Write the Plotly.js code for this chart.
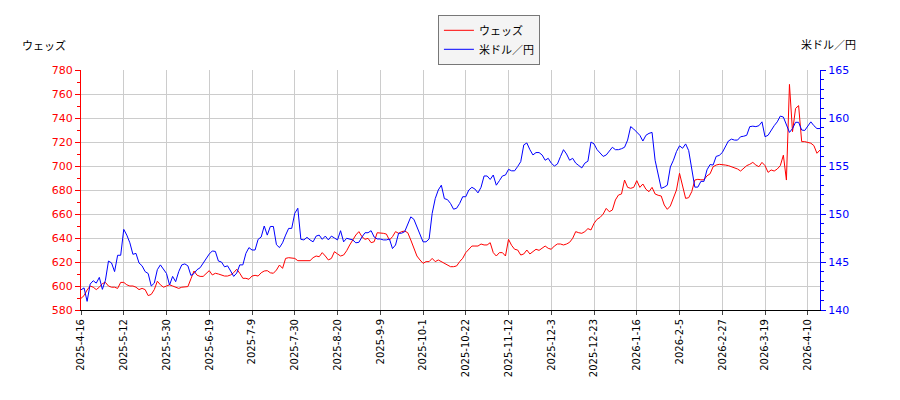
<!DOCTYPE html>
<html>
<head>
<meta charset="utf-8">
<script src="https://cdn.plot.ly/plotly-3.0.1.min.js"></script>
<style>
  body { margin: 0; background: #fff; }
  #chart { width: 900px; height: 400px; }
</style>
</head>
<body>
<div id="chart"></div>
<script>
// ウェッズ price (left axis), one value per trading day
var wedsPrice = [
  589.7, 592, 596.7, 600, 599, 597, 599, 602, 603, 600, 599, 599, 598, 603,
  603, 601, 600, 600, 599, 597, 598, 597, 592, 593, 597, 604, 601, 599,
  600, 601, 600, 599, 598, 599, 599, 599.5, 606, 612.5, 609, 608, 608, 610,
  612.8, 609.2, 610.6, 610, 608.9, 608.3, 608.3, 609.2, 611.1, 614, 610.6, 606.4, 606.4, 605.6,
  608.3, 608.9, 608.3, 611, 612.5, 612.8, 611, 610.6, 613.3, 617.5, 614.7, 623, 623.6, 623.6,
  623, 621.1, 621.1, 621.1, 621.1, 621.1, 623.6, 625, 624.4, 627.8, 625, 621.7, 623, 628.6,
  626.7, 625, 625.8, 629.4, 634.2, 638.3, 642.5, 645.3, 641.1, 638.9, 639.7, 636.1, 636.9, 644.4,
  644.4, 643.9, 643.3, 638.3, 641.1, 645.3, 643.9, 645.3, 645.8, 644.4, 638.3, 631.4, 625, 621.7,
  618.9, 620.3, 620.3, 623, 620.3, 621.7, 620.3, 618.9, 617, 616.1, 616.1, 616.7, 620.3, 623.1,
  627.8, 630.6, 633.3, 633.3, 633.3, 635, 634.2, 634.2, 636.1, 627.8, 625, 627.8, 627.8, 625,
  638.9, 633.9, 630.6, 630, 625.8, 626.7, 630, 626.7, 628.6, 630.6, 629.7, 631.9, 633.3, 631.4,
  630.6, 633.3, 635, 635, 634.2, 635, 636.4, 639.7, 645.3, 644.4, 643.9, 645.3, 647.8, 646.7,
  652.2, 655.6, 657.2, 660, 664.7, 661.9, 663.3, 671.7, 675.8, 676.7, 688.3, 682.2, 681.4, 682.2,
  687.8, 682.2, 685, 680.6, 678.6, 682.2, 676.7, 675.6, 675, 667.5, 663.9, 666.7, 673, 680,
  693.9, 683, 673, 673.6, 678.6, 688.3, 688.9, 688.5, 688.5, 691.8, 693.5, 699.4, 700.8, 701.4,
  701.4, 700.8, 700.3, 699.4, 698.6, 697.5, 695.8, 698, 700.3, 701.4, 703, 700.8, 699.4, 703,
  700.3, 694.7, 696.7, 695.8, 697.5, 700.3, 709, 688.3, 768, 728.6, 748, 750.3, 720.3, 720.3,
  719.7, 719, 717, 710.6, 713.3
];

// 米ドル／円 rate (right axis)
var usdJpy = [
  142.1, 142.3, 140.9, 142.7, 143.05, 142.8, 143.4, 142.15, 143.1, 145.1, 144.9, 144.0, 145.7, 145.7,
  148.4, 147.8, 147.0, 145.8, 145.9, 144.9, 144.6, 144.0, 143.8, 142.5, 142.8, 144.2, 144.7, 144.2,
  143.8, 142.6, 143.5, 142.95, 144.0, 144.7, 144.8, 144.6, 143.6, 143.8, 144.2, 144.4, 144.9, 145.3,
  145.83, 146.15, 146.1, 145.1, 145.0, 144.5, 144.6, 144.06, 143.5, 143.85, 144.7, 144.7, 145.9, 146.5,
  146.25, 146.25, 147.36, 147.6, 148.75, 147.8, 148.7, 148.7, 146.8, 146.5, 147.0, 147.8, 148.5, 148.5,
  150.07, 150.6, 147.36, 147.3, 147.57, 147.3, 147.1, 147.7, 147.8, 147.36, 147.7, 147.3, 147.7, 147.5,
  147.3, 148.26, 147.1, 147.47, 147.4, 147.3, 147.0, 147.05, 147.6, 148.05, 148.05, 148.26, 147.6, 147.4,
  147.4, 147.3, 147.3, 147.4, 146.4, 146.77, 147.99, 148.0, 148.16, 148.96, 149.7, 149.45, 148.7, 147.8,
  147.1, 147.1, 147.4, 150.07, 151.6, 152.5, 153.0, 151.6, 151.5, 151.1, 150.5, 150.6, 151.1, 151.8,
  151.8, 152.5, 152.78, 152.6, 152.2, 152.78, 153.96, 153.96, 153.6, 154.06, 153.0, 153.47, 153.96, 154.06,
  154.65, 154.5, 154.5, 154.95, 155.45, 157.2, 157.4, 156.7, 156.15, 156.4, 156.4, 156.15, 155.6, 155.8,
  155.3, 155.0, 155.2, 155.97, 156.7, 156.25, 155.6, 155.8, 155.3, 155.05, 154.8, 155.3, 155.5, 157.5,
  157.3, 156.7, 156.3, 156.0, 156.15, 156.5, 156.95, 156.7, 156.7, 156.8, 156.95, 157.7, 159.1, 158.85,
  158.5, 158.2, 157.6, 158.2, 158.4, 158.5, 155.6, 154.06, 152.67, 152.8, 153.0, 154.9, 155.6, 156.5,
  157.1, 156.85, 157.3, 156.6, 154.76, 152.8, 152.8, 153.4, 153.4, 154.6, 155.15, 155.1, 156.0, 156.1,
  156.4, 157.0, 157.6, 157.8, 157.7, 157.7, 158.05, 158.1, 158.2, 159.1, 159.15, 159.1, 159.2, 159.6,
  158.05, 158.2, 158.75, 159.2, 159.6, 160.2, 160.1, 159.3, 158.5, 158.9, 159.55, 159.55, 158.75, 158.7,
  159.1, 159.6, 159.2, 158.9, 158.9
];

var tickIndex = [0, 14, 28, 42, 56, 70, 84, 98, 112, 126, 140, 154, 168, 182, 196, 210, 224, 238];
var tickLabels = ['2025-4-16', '2025-5-12', '2025-5-30', '2025-6-19', '2025-7-9', '2025-7-30',
  '2025-8-20', '2025-9-9', '2025-10-1', '2025-10-22', '2025-11-12', '2025-12-3', '2025-12-23',
  '2026-1-16', '2026-2-5', '2026-2-27', '2026-3-19', '2026-4-10'];

function drawChart() {
    var LOC = document.getElementById('chart');
    var fontFam = 'DejaVu Sans, Noto Sans CJK JP, sans-serif';
    var xs = wedsPrice.map(function (v, i) { return i; });

    var trace1 = {
        x: xs,
        y: wedsPrice,
        name: 'ウェッズ',
        type: 'scatter',
        mode: 'lines',
        line: { color: 'red', width: 1 },
        yaxis: 'y'
    };

    var trace2 = {
        x: xs,
        y: usdJpy,
        name: '米ドル／円',
        type: 'scatter',
        mode: 'lines',
        line: { color: 'blue', width: 1 },
        yaxis: 'y2'
    };

    var layout = {
        width: 900,
        height: 400,
        margin: { l: 81, r: 80, t: 70, b: 90 },
        paper_bgcolor: '#fff',
        plot_bgcolor: '#fff',
        font: { family: fontFam, size: 11, color: '#000' },
        showlegend: true,
        legend: {
            x: 0.552, xanchor: 'center',
            y: 1.23, yanchor: 'top',
            bgcolor: '#f4f4f4',
            bordercolor: '#777',
            borderwidth: 1,
            font: { family: fontFam, size: 11 },
            itemwidth: 30
        },
        xaxis: {
            range: [0, xs.length - 1],
            tickvals: tickIndex,
            ticktext: tickLabels,
            tickangle: -90,
            tickfont: { size: 10 },
            showgrid: true,
            gridcolor: '#cccccc',
            showline: true,
            linecolor: '#000',
            ticks: 'outside',
            ticklen: 4,
            zeroline: false
        },
        yaxis: {
            range: [580, 780],
            dtick: 20,
            tickfont: { color: 'red', size: 11 },
            showline: true,
            linecolor: 'red',
            ticks: 'outside',
            tickcolor: 'red',
            ticklen: 5,
            minor: { dtick: 10, ticks: 'outside', ticklen: 3, tickcolor: 'red', showgrid: false },
            gridcolor: '#cccccc',
            zeroline: false
        },
        yaxis2: {
            range: [140, 165],
            dtick: 5,
            overlaying: 'y',
            side: 'right',
            tickfont: { color: 'blue', size: 11 },
            showline: true,
            linecolor: 'blue',
            ticks: 'outside',
            tickcolor: 'blue',
            ticklen: 5,
            minor: { dtick: 1, ticks: 'outside', ticklen: 3, tickcolor: 'blue', showgrid: false },
            showgrid: false,
            zeroline: false
        },
        annotations: [
            { text: 'ウェッズ', xref: 'paper', yref: 'paper', x: -0.05, y: 1.1,
              xanchor: 'center', yanchor: 'middle', showarrow: false, font: { size: 11 } },
            { text: '米ドル／円', xref: 'paper', yref: 'paper', x: 1.012, y: 1.1,
              xanchor: 'center', yanchor: 'middle', showarrow: false, font: { size: 11 } }
        ]
    };

    Plotly.newPlot(LOC, [trace1, trace2], layout, { displayModeBar: false, staticPlot: true });
}

drawChart();
</script>
</body>
</html>
